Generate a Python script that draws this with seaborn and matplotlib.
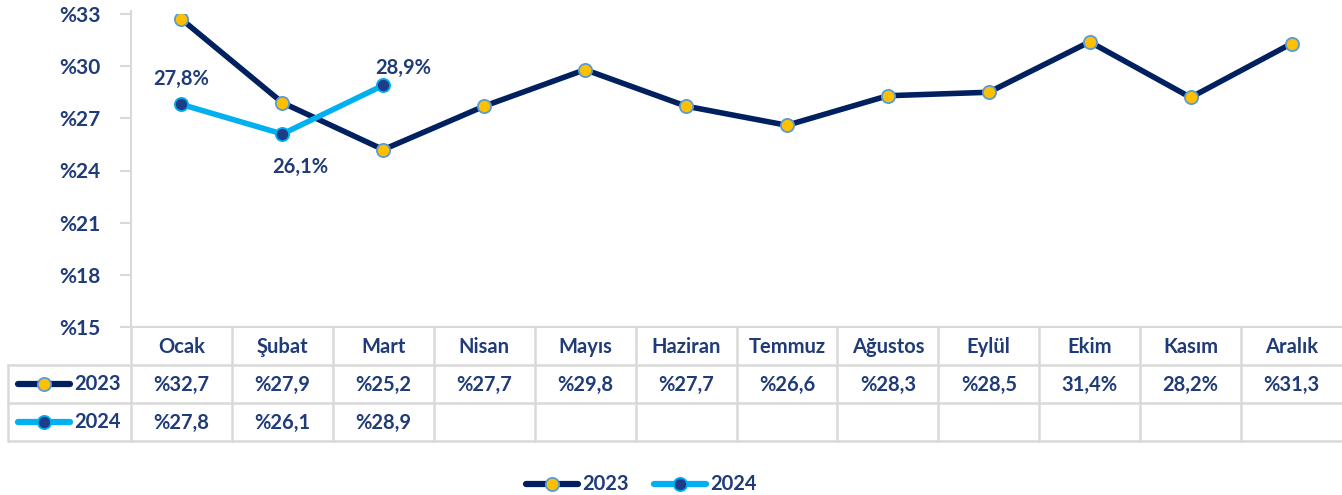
import numpy as np
import pandas as pd
import matplotlib
matplotlib.use("Agg")
import matplotlib.pyplot as plt
import matplotlib.transforms as mtransforms
from matplotlib.lines import Line2D
import seaborn as sns

# ------------------------------------------------------------------
# data
# ------------------------------------------------------------------
months = ["Ocak", "Şubat", "Mart", "Nisan", "Mayıs", "Haziran", "Temmuz",
          "Ağustos", "Eylül", "Ekim", "Kasım", "Aralık"]
vals_2023 = [32.7, 27.9, 25.2, 27.7, 29.8, 27.7, 26.6, 28.3, 28.5, 31.4, 28.2, 31.3]
vals_2024 = [27.8, 26.1, 28.9]
labels_2023 = ["%32,7", "%27,9", "%25,2", "%27,7", "%29,8", "%27,7", "%26,6",
               "%28,3", "%28,5", "31,4%", "28,2%", "%31,3"]
labels_2024 = ["%27,8", "%26,1", "%28,9"]
yticks = [15, 18, 21, 24, 27, 30, 33]

# colours
NAVY = "#002060"
SKY = "#00B0F0"
GOLD = "#FFC000"
EDGE = "#5B9BD5"
DOT24 = "#1F3C88"
TXT = "#1F3B78"
GRID = "#D9D9D9"

sns.set_theme(style="white")
plt.rcParams["font.family"] = ["Lato", "DejaVu Sans"]
plt.rcParams["font.weight"] = "bold"
FS = 14.5

W, H = 1342, 495
fig = plt.figure(figsize=(W / 100, H / 100), dpi=100)
ax = fig.add_axes([131 / W, 1 - 327 / H, (W - 131) / W, 313 / H])

df23 = pd.DataFrame({"x": range(len(vals_2023)), "v": vals_2023})
df24 = pd.DataFrame({"x": range(len(vals_2024)), "v": vals_2024})

sns.lineplot(data=df23, x="x", y="v", ax=ax, color=NAVY, lw=4,
             marker="o", markersize=9.5, markerfacecolor=GOLD,
             markeredgecolor=EDGE, markeredgewidth=1.3, zorder=3)
sns.lineplot(data=df24, x="x", y="v", ax=ax, color=SKY, lw=4,
             marker="o", markersize=9.5, markerfacecolor=DOT24,
             markeredgecolor=SKY, markeredgewidth=1.3, zorder=4)

ax.set_xlim(-0.5, len(months) - 0.5)
ax.set_ylim(15, 33)
ax.set_yticks(yticks)
ax.set_yticklabels([f"%{t}" for t in yticks], fontsize=15, color=TXT,
                   fontweight="bold")
ax.set_xticks([])
ax.set_xlabel("")
ax.set_ylabel("")
ax.tick_params(axis="y", length=8, color=GRID, width=1.5, pad=14, left=True)
for s in ["top", "right"]:
    ax.spines[s].set_visible(False)
ax.spines["left"].set_color(GRID)
ax.spines["left"].set_linewidth(1.5)
ax.spines["bottom"].set_color(GRID)
ax.spines["bottom"].set_linewidth(1.5)
ax.spines["left"].set_bounds(15, 33.2)

# data labels for 2024
ax.text(0, vals_2024[0] + 0.9, "27,8%", ha="center", va="bottom",
        fontsize=FS, color=TXT, fontweight="bold")
ax.text(2.2, vals_2024[2] + 0.45, "28,9%", ha="center", va="bottom",
        fontsize=FS, color=TXT, fontweight="bold")
ax.annotate("26,1%", xy=(1, vals_2024[1]), xytext=(1.18, vals_2024[1] - 1.9),
            ha="center", va="center", fontsize=FS, color=TXT, fontweight="bold",
            arrowprops=dict(arrowstyle="-", color="#A6A6A6", lw=1.2,
                            shrinkA=11, shrinkB=0))

# ------------------------------------------------------------------
# data table under the chart
# ------------------------------------------------------------------
def fy(py):
    return 1 - py / H

tr = mtransforms.blended_transform_factory(ax.transData, fig.transFigure)
x_left = ax.transData.inverted().transform(fig.transFigure.transform((8 / W, 0)))[0]
x_right = len(months) - 0.5

def tline(xs, ys):
    fig.add_artist(Line2D(xs, ys, transform=tr, color=GRID, lw=1.8,
                          clip_on=False))

tline([x_left, x_right], [fy(365)] * 2)
tline([x_left, x_right], [fy(403)] * 2)
tline([x_left, x_right], [fy(441)] * 2)
tline([x_left, x_left], [fy(365), fy(441)])
for i in range(1, len(months)):
    tline([i - 0.5, i - 0.5], [fy(327), fy(441)])
tline([-0.5, -0.5], [fy(327), fy(441)])

for i, m in enumerate(months):
    fig.text(i, fy(347), m, transform=tr, ha="center", va="center",
             fontsize=FS, color=TXT, fontweight="bold")
for i, lab in enumerate(labels_2023):
    fig.text(i, fy(385), lab, transform=tr, ha="center", va="center",
             fontsize=FS, color=TXT, fontweight="bold")
for i, lab in enumerate(labels_2024):
    fig.text(i, fy(423), lab, transform=tr, ha="center", va="center",
             fontsize=FS, color=TXT, fontweight="bold")

# legend keys inside the table
def key(x0, x1, y, lc, fc, ec, label, fs=FS):
    fig.add_artist(Line2D([x0 / W, x1 / W], [fy(y)] * 2, color=lc, lw=4.5,
                          solid_capstyle="round"))
    fig.add_artist(Line2D([(x0 + x1) / 2 / W], [fy(y)], marker="o",
                          markersize=9.5, markerfacecolor=fc,
                          markeredgecolor=ec, markeredgewidth=1.3, lw=0))
    fig.text((x1 + 4) / W, fy(y), label, ha="left", va="center",
             fontsize=fs, color=TXT, fontweight="bold")

key(18, 70, 384, NAVY, GOLD, EDGE, "2023")
key(18, 70, 422, SKY, DOT24, SKY, "2024")

# bottom legend
key(526, 578, 484, NAVY, GOLD, EDGE, "2023")
key(654, 706, 484, SKY, DOT24, SKY, "2024")

fig.savefig("out.png", dpi=100)
